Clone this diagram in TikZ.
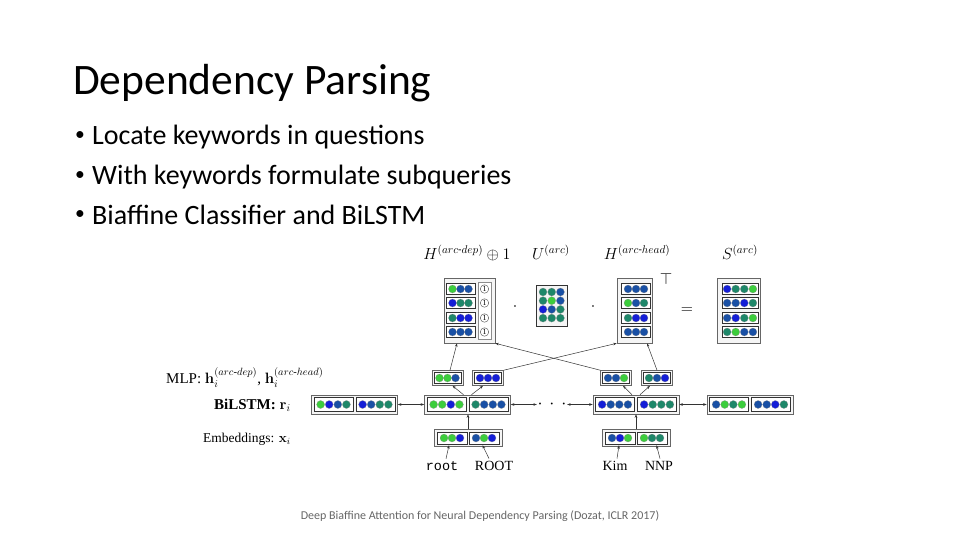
\RequirePackage{fix-cm}
\documentclass[tikz,border=0pt]{standalone}
\usepackage{amsmath}
\usepackage[no-math]{fontspec}
\setmainfont{Carlito}
\newfontfamily\figfont{Liberation Serif}
\newfontfamily\figmono{Liberation Mono}
\usetikzlibrary{positioning, calc, arrows.meta}

\definecolor{cg}{RGB}{60,205,60}
\definecolor{ct}{RGB}{30,135,105}
\definecolor{cs}{RGB}{25,80,165}
\definecolor{cb}{RGB}{20,30,215}

\begin{document}
\begin{tikzpicture}[
    x=1pt, y=-1pt,
    frame/.style={draw=black!60, fill=black!4, line width=0.6pt, inner sep=0pt},
    cell/.style={draw=black!80, fill=white, line width=0.5pt, inner sep=0pt},
    dot/.style={circle, draw=black!45, line width=0.2pt, minimum size=8pt, inner sep=0pt},
    one/.style={circle, draw=black!70, line width=0.4pt, minimum size=8.5pt, inner sep=0pt, font=\figfont\fontsize{8}{8}\selectfont},
    arrow/.style={-{Stealth[length=3.5pt, width=2.6pt]}, line width=0.5pt, black!80},
    biarrow/.style={{Stealth[length=3.5pt, width=2.6pt]}-{Stealth[length=3.5pt, width=2.6pt]}, line width=0.5pt, black!80},
    lbl/.style={font=\figfont\fontsize{13.5}{15}\selectfont, inner sep=0pt, anchor=base west},
    word/.style={font=\figfont\fontsize{14}{16}\selectfont, inner sep=0pt, anchor=base},
    mathlbl/.style={font=\fontsize{16}{18}\selectfont, inner sep=0pt},
    item/.style={font=\fontsize{28}{32}\selectfont, inner sep=0pt, anchor=base west}
]
    \useasboundingbox (0,0) rectangle (960,540);

    % ==========================================
    % Slide text
    % ==========================================
    \node[inner sep=0pt, anchor=base west, font=\fontsize{43.5}{50}\selectfont] (title) at (73, 95) {Dependency Parsing};
    \node[item] (item1) at (75, 145) {\makebox[17pt][l]{\raisebox{0.35ex}{\scalebox{0.7}{\textbullet}}}Locate keywords in questions};
    \node[item] (item2) at (75, 185) {\makebox[17pt][l]{\raisebox{0.35ex}{\scalebox{0.7}{\textbullet}}}With keywords formulate subqueries};
    \node[item] (item3) at (75, 224) {\makebox[17pt][l]{\raisebox{0.35ex}{\scalebox{0.7}{\textbullet}}}Biaffine Classifier and BiLSTM};
    \node[inner sep=0pt, text=black!60, font=\fontsize{12}{14}\selectfont] (cite) at (480, 516) {Deep Biaffine Attention for Neural Dependency Parsing (Dozat, ICLR 2017)};

    % ==========================================
    % Biaffine product
    % ==========================================
    \node[mathlbl] (lhdep) at (467, 253) {$H^{(arc\text{-}dep)}\oplus 1$};
    \node[mathlbl] (luarc) at (551, 252) {$U^{(arc)}$};
    \node[mathlbl] (lhhead) at (637, 252) {$H^{(arc\text{-}head)}$};
    \node[mathlbl] (lsarc) at (740, 252) {$S^{(arc)}$};

    % H dep with the column of ones
    \node[frame, minimum width=51pt, minimum height=65pt] (hdep) at (469.5, 310.5) {};
    \node[cell, draw=black!45, minimum width=13pt, minimum height=57pt] (ones) at (484.5, 311) {};
    \foreach \y/\cols [count=\r] in {289/{g,s,s}, 303/{b,t,t}, 318/{t,b,b}, 332/{s,s,s}} {
        \node[cell, minimum width=29pt, minimum height=11pt] (dep\r) at (460.5, \y) {};
        \foreach \c [count=\k] in \cols
            \node[dot, fill=c\c] (dep\r-\k) at ({452.5+8*(\k-1)}, \y) {};
        \node[one] (one\r) at (484.5, \y) {1};
    }
    \node[mathlbl] (dot1) at (515, 307) {$\cdot$};

    % U
    \node[frame, draw=black!80, minimum width=31pt, minimum height=41pt] (uarc) at (551.5, 305.5) {};
    \foreach \y/\cols [count=\r] in {292/{t,t,s}, 300.7/{t,g,s}, 309.4/{b,s,t}, 318.1/{t,t,t}}
        \foreach \c [count=\k] in \cols
            \node[dot, fill=c\c] (u\r-\k) at ({543+8.7*(\k-1)}, \y) {};
    \node[mathlbl] (dot2) at (593, 307) {$\cdot$};

    % H head
    \node[frame, minimum width=35pt, minimum height=65pt] (hhead) at (634.5, 310.5) {};
    \foreach \y/\cols [count=\r] in {289/{s,s,s}, 303/{g,s,t}, 318/{t,b,b}, 332/{s,s,s}} {
        \node[cell, minimum width=29pt, minimum height=11pt] (head\r) at (636, \y) {};
        \foreach \c [count=\k] in \cols
            \node[dot, fill=c\c] (head\r-\k) at ({628+8*(\k-1)}, \y) {};
    }
    \node[mathlbl] (tr) at (666, 279) {$\top$};
    \node[mathlbl] (eq) at (687, 311) {$=$};

    % S
    \node[frame, minimum width=43pt, minimum height=65pt] (sarc) at (738.5, 310.5) {};
    \foreach \y/\cols [count=\r] in {289/{b,t,t,g}, 303/{s,s,b,t}, 318/{s,b,t,g}, 332/{t,g,s,s}} {
        \node[cell, minimum width=36pt, minimum height=11pt] (s\r) at (740, \y) {};
        \foreach \c [count=\k] in \cols
            \node[dot, fill=c\c] (s\r-\k) at ({727.1+8.6*(\k-1)}, \y) {};
    }

    % ==========================================
    % Network layers
    % ==========================================
    \node[lbl, font=\figfont\fontsize{15}{16}\selectfont] (lmlp) at (166, 383) {MLP: $\mathbf{h}_i^{(arc\text{-}dep)}$, $\mathbf{h}_i^{(arc\text{-}head)}$};
    \node[lbl, font=\figfont\fontsize{15}{16}\selectfont] (llstm) at (214, 409) {\textbf{BiLSTM:} $\mathbf{r}_i$};
    \node[lbl] (lemb) at (203, 442) {Embeddings: $\mathbf{x}_i$};

    % MLP outputs
    \foreach \name/\x/\cols in {mlp1/447.5/{g,g,s}, mlp2/488/{b,b,b}, mlp3/616/{s,s,g}, mlp4/657/{t,s,b}} {
        \node[frame, minimum width=31pt, minimum height=15pt] (\name) at (\x, 378) {};
        \node[cell, minimum width=27pt, minimum height=11pt] (\name-in) at (\x, 378) {};
        \foreach \c [count=\k] in \cols
            \node[dot, fill=c\c] (\name-\k) at ({\x+8*(\k-2)}, 378) {};
    }

    % BiLSTM states
    \foreach \name/\x/\colsa/\colsb in {lstm0/354.5/{g,b,s,t}/{b,s,t,t}, lstm1/467.5/{g,g,b,g}/{t,s,s,s}, lstm2/636/{b,s,s,s}/{b,t,t,t}, lstm3/750/{s,g,t,g}/{s,s,b,t}} {
        \node[frame, minimum width=86pt, minimum height=19pt] (\name) at (\x, 404.5) {};
        \node[cell, minimum width=39pt, minimum height=14pt] (\name-a) at ({\x-21}, 404.5) {};
        \node[cell, minimum width=39pt, minimum height=14pt] (\name-b) at ({\x+21}, 404.5) {};
        \foreach \c [count=\k] in \colsa
            \node[dot, fill=c\c] (\name-a\k) at ({\x-21+8.6*(\k-2.5)}, 404.5) {};
        \foreach \c [count=\k] in \colsb
            \node[dot, fill=c\c] (\name-b\k) at ({\x+21+8.6*(\k-2.5)}, 404.5) {};
    }
    \node[inner sep=0pt, minimum width=30pt, font=\fontsize{18}{18}\selectfont] (dots) at (552, 404.5) {$\cdot\,\cdot\,\cdot$};

    % Embeddings
    \foreach \name/\x/\colsa/\colsb in {emb1/468/{g,g,b}/{s,g,b}, emb2/636/{s,b,g}/{g,t,t}} {
        \node[frame, minimum width=68pt, minimum height=17pt] (\name) at (\x, 438) {};
        \node[cell, minimum width=30pt, minimum height=12pt] (\name-a) at ({\x-16}, 438) {};
        \node[cell, minimum width=30pt, minimum height=12pt] (\name-b) at ({\x+16}, 438) {};
        \foreach \c [count=\k] in \colsa
            \node[dot, fill=c\c] (\name-a\k) at ({\x-16+8*(\k-2)}, 438) {};
        \foreach \c [count=\k] in \colsb
            \node[dot, fill=c\c] (\name-b\k) at ({\x+16+8*(\k-2)}, 438) {};
    }

    % Words
    \node[word, font=\figmono\fontsize{13.5}{16}\selectfont] (wroot) at (442, 470) {root};
    \node[word] (wROOT) at (494, 470) {ROOT};
    \node[word] (wKim) at (615, 470) {Kim};
    \node[word] (wNNP) at (659, 470) {NNP};

    % ==========================================
    % Connectors
    % ==========================================
    \draw[arrow] ($(wroot.north)+(4,-2)$) -- ($(emb1-a.south)+(-3,1)$);
    \draw[arrow] ($(wROOT.north)+(-5,-2)$) -- ($(emb1-b.south)+(-1.5,1)$);
    \draw[arrow] ($(wKim.north)+(2,-2)$) -- ($(emb2-a.south)+(-1,1)$);
    \draw[arrow] ($(wNNP.north)+(1,-2)$) -- ($(emb2-b.south)+(4.5,1)$);

    \draw[arrow] (emb1.north) -- (emb1.north |- lstm1.south);
    \draw[arrow] (emb2.north) -- (emb2.north |- lstm2.south);

    \draw[biarrow] (lstm0.east) -- (lstm1.west);
    \draw[biarrow] (lstm1.east) -- (dots.west);
    \draw[biarrow] (dots.east) -- (lstm2.west);
    \draw[biarrow] (lstm2.east) -- (lstm3.west);

    \draw[arrow] ($(lstm1.north)+(-4,0)$) -- ($(mlp1.south)+(5,0)$);
    \draw[arrow] ($(lstm1.north)+(4,0)$) -- ($(mlp2.south)+(-5,0)$);
    \draw[arrow] ($(lstm2.north)+(-4,0)$) -- ($(mlp3.south)+(7,0)$);
    \draw[arrow] ($(lstm2.north)+(4,0)$) -- ($(mlp4.south)+(-7,0)$);

    \draw[arrow] ($(mlp1.north)+(2.5,0)$) -- ($(hdep.south)+(-12.5,0)$);
    \draw[arrow] (mlp2.north east) -- (hhead.south west);
    \draw[arrow] (mlp3.north west) -- (hdep.south east);
    \draw[arrow] (mlp4.north) -- ($(hhead.south)+(12.5,0)$);

\end{tikzpicture}
\end{document}
